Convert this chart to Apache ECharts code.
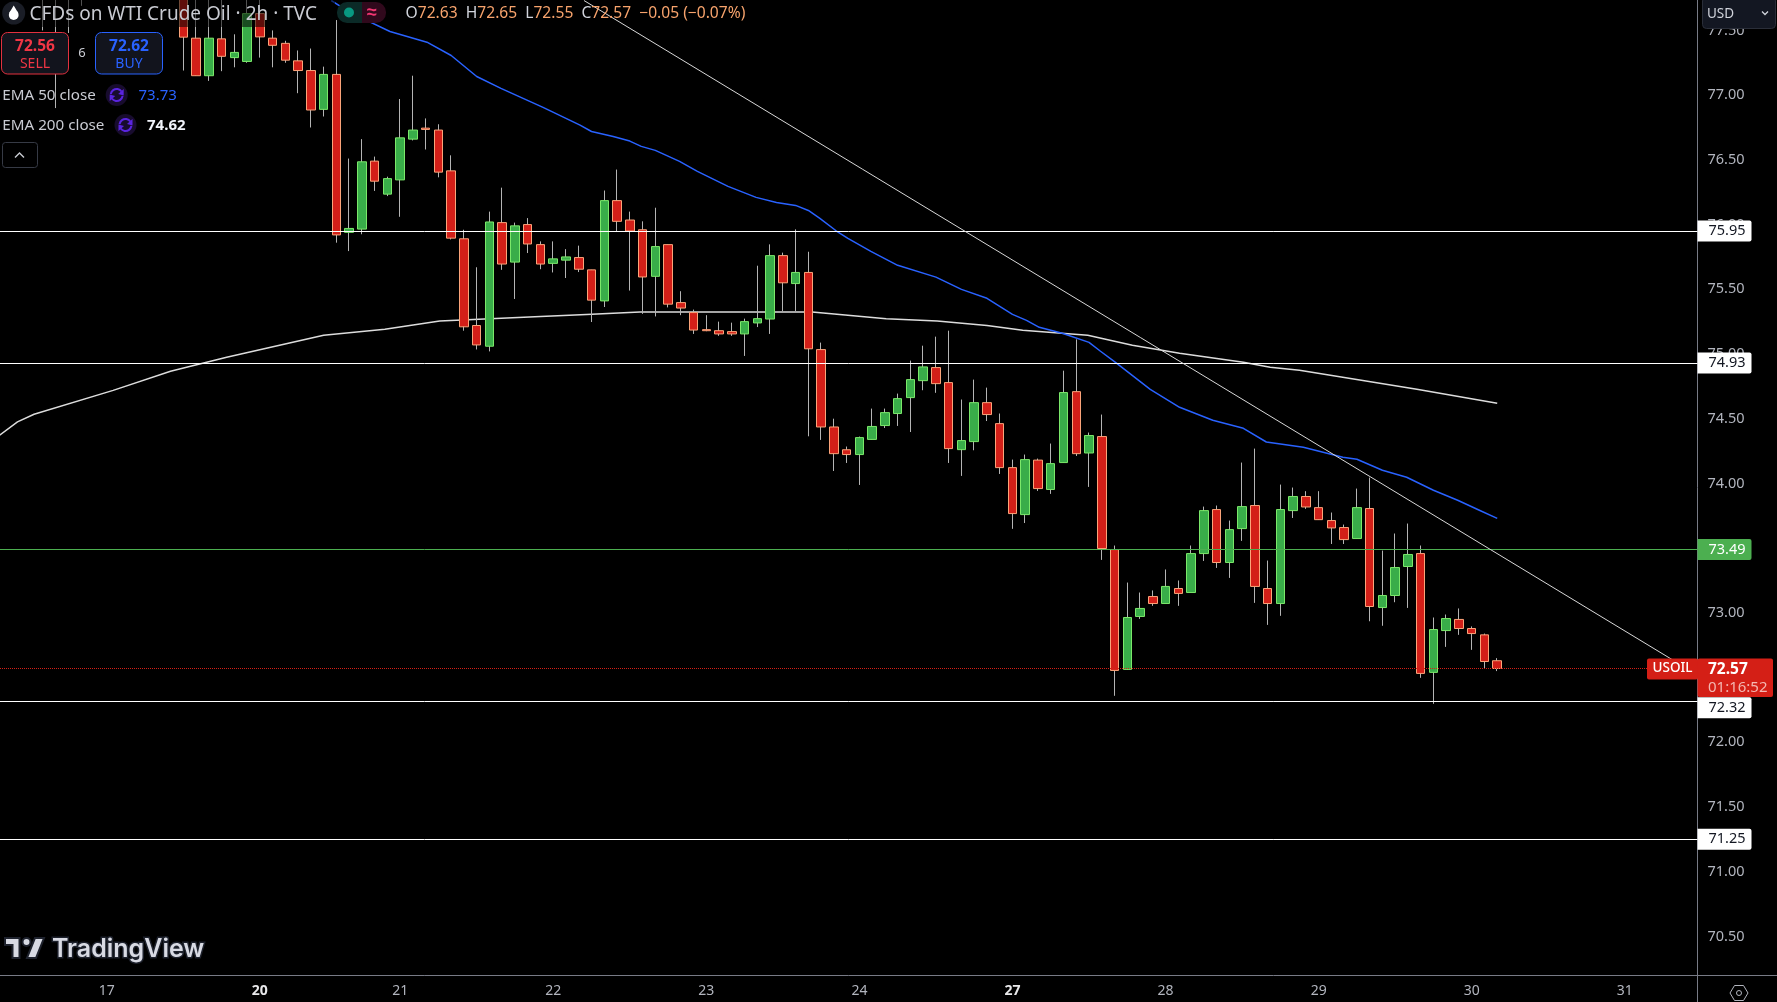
<!DOCTYPE html>
<html><head><meta charset="utf-8">
<style>html,body{margin:0;padding:0;background:#000;overflow:hidden}#c{width:1777px;height:1002px}</style>
<script src="https://cdn.jsdelivr.net/npm/echarts@6/dist/echarts.min.js"></script>
</head><body><div id="c"></div>
<script>
// ---- DATA ----
const firstBar = -11;
const opens = [78,78,78,78,null,null,null,null,null,null,null,
77.8,77.44,77.15,77.435,77.29,77.26,77.63,77.44,77.40,77.265,77.19,76.89,77.16,75.94,75.965,76.49,76.235,76.345,76.66,76.745,76.73,76.415,75.89,75.22,75.06,76.015,75.71,76.0,75.845,75.70,75.725,75.745,75.65,75.41,76.185,76.035,75.96,75.60,75.845,75.397,75.32,75.188,75.18,75.173,75.155,75.24,75.27,75.76,75.544,75.63,75.034,74.436,74.26,74.223,74.34,74.447,74.54,74.663,74.794,74.895,74.779,74.261,74.323,74.624,74.462,74.122,73.759,74.18,73.953,74.161,74.709,74.235,74.362,73.489,72.563,72.972,73.126,73.072,73.188,73.157,73.458,73.798,73.389,73.651,73.829,73.188,73.072,73.79,73.899,73.813,73.713,73.659,73.574,73.806,73.041,73.134,73.358,73.458,72.54,72.863,72.949,72.879,72.83,72.63];
const closes = [77.9,77.9,77.9,77.9,null,null,null,null,null,null,null,
77.448,77.15,77.44,77.30,77.33,77.63,77.45,77.385,77.27,77.19,76.885,77.16,75.92,75.97,76.485,76.335,76.355,76.67,76.73,76.735,76.405,75.895,75.21,75.07,76.02,75.695,75.99,75.85,75.695,75.735,75.75,75.655,75.416,76.185,76.025,75.95,75.595,75.83,75.385,75.355,75.185,75.18,75.155,75.155,75.25,75.273,75.76,75.55,75.63,75.04,74.436,74.23,74.223,74.354,74.44,74.547,74.655,74.802,74.90,74.771,74.269,74.331,74.624,74.532,74.122,73.767,74.184,73.96,74.153,74.702,74.23,74.37,73.497,72.555,72.964,73.034,73.072,73.204,73.15,73.458,73.79,73.389,73.643,73.821,73.204,73.072,73.798,73.899,73.818,73.72,73.656,73.566,73.813,73.049,73.134,73.35,73.451,72.532,72.871,72.956,72.879,72.84,72.624,72.57];
const lows = [77.50,76.90,77.48,77.69,null,null,null,null,null,null,null,
77.19,77.15,77.11,77.185,77.215,77.25,77.29,77.215,77.25,77.015,76.75,76.835,75.86,75.795,75.925,76.26,76.22,76.06,76.65,76.58,76.365,75.885,75.18,75.035,75.02,75.65,75.425,75.78,75.655,75.63,75.587,75.633,75.247,75.363,75.95,75.49,75.31,75.29,75.36,75.30,75.155,75.176,75.14,75.14,74.985,75.208,75.155,75.33,75.33,74.364,74.336,74.096,74.158,73.988,74.34,74.428,74.444,74.397,74.72,74.70,74.158,74.058,74.256,74.482,74.073,73.649,73.694,73.942,73.919,74.161,74.212,73.973,73.409,72.359,72.563,72.953,73.054,73.072,73.054,73.157,73.401,73.347,73.27,73.556,73.077,72.907,72.977,73.733,73.803,73.72,73.532,73.532,73.574,72.935,72.90,73.082,73.038,72.498,72.297,72.737,72.83,72.714,72.567,72.55];
const highs = [78.1,78.1,78.1,78.1,null,null,null,null,null,null,null,
77.95,77.8,77.75,77.75,77.47,77.75,77.75,77.50,77.42,77.345,77.36,77.22,77.58,76.51,76.66,76.525,76.37,76.97,77.15,76.82,76.775,76.535,75.96,75.67,76.10,76.285,76.015,76.05,75.87,75.87,75.81,75.837,75.65,76.263,76.425,76.10,76.025,76.13,75.845,75.485,75.343,75.30,75.25,75.242,75.273,75.682,75.847,75.783,75.963,75.79,75.088,74.50,74.285,74.362,74.578,74.578,74.694,74.949,75.064,75.134,75.18,74.648,74.802,74.74,74.54,74.184,74.223,74.192,74.308,74.871,75.113,74.393,74.532,73.52,73.234,73.157,73.173,73.335,73.25,73.52,73.821,73.829,73.713,74.161,74.269,73.404,73.991,73.968,73.94,73.94,73.775,73.682,73.96,74.045,73.481,73.613,73.69,73.52,72.964,72.987,73.034,72.895,72.84,72.65];

const ema50Bars = [11.6,13.1,16.2,19.1,21,23,24.9,28.2,31.1,32,33.7,35,35.9,37,38.9,40.3,42.7,44.9,46.5,48,49,49.9,51.2,52.1,53.9,56,59,61,63,65,66.1,67.1,68.9,71,71.9,73.1,75.8,78.1,80.7,83.1,84.9,87.8,90.9,92,94,95.9,98,99.9,101.6,103];
const ema50Values = [77.731,77.638,77.492,77.409,77.306,77.144,77.052,76.905,76.768,76.719,76.681,76.645,76.604,76.573,76.488,76.411,76.295,76.21,76.171,76.148,76.109,76.048,75.95,75.893,75.793,75.685,75.594,75.499,75.43,75.306,75.26,75.206,75.16,75.09,75.021,74.933,74.727,74.588,74.488,74.426,74.32,74.279,74.202,74.187,74.102,74.048,73.947,73.87,73.793,73.73];
const ema200Bars = [-14.4,-13,-11.7,-5.5,-1,3.4,11,15.8,20.1,28,31.6,35.8,43.6,49.3,55.1,59.1,63,65.8,70.9,74.4,78.1,83.1,85.2,87.5,96.7,103];
const ema200Values = [74.372,74.475,74.534,74.719,74.866,74.974,75.144,75.191,75.255,75.29,75.306,75.324,75.324,75.324,75.273,75.255,75.221,75.183,75.144,75.067,75.005,74.936,74.897,74.874,74.727,74.62];
const trendBars = [31.41,118.7];
const trendValues = [77.731,72.52];

const levelsWhite = [75.95,74.93,72.32,71.25];
const levelGreen = 73.49;
const lastPrice = 72.57;
const priceTicks = [70.5,71,71.5,72,72.5,73,73.5,74,74.5,75,75.5,76,76.5,77,77.5];
const dayBars = [-6,6,17,29,41,53,65,77,89,101,113];
const dayLabels = ['17','20','21','22','23','24','27','28','29','30','31'];
const boldDays = ['20','27'];
const title = 'CFDs on WTI Crude Oil · 2h · TVC';
const ohlc = {O:'72.63',H:'72.65',L:'72.55',C:'72.57',chg:'−0.05 (−0.07%)'};
const sell = '72.56', buy = '72.62', spread = '6';
const ema50Last = '73.73', ema200Last = '74.62';
const countdown = '01:16:52';

// ---- CHART ----
const FONT = '"Noto Sans", sans-serif';
const chart = echarts.init(document.getElementById('c'), null, {renderer:'canvas'});
const rows = [];
opens.forEach((o,i)=>{ if(o!==null) rows.push({k:firstBar+i,o,c:closes[i],l:lows[i],h:highs[i]}); });

const levelLabel = (bg,fg,off)=>({show:true,position:'end',distance:0,formatter:p=>p.value.toFixed(2),
  backgroundColor:bg,color:fg,fontFamily:FONT,fontSize:14.5,width:43,height:21,lineHeight:21,padding:[0,0,0,11],
  borderRadius:[0,2,2,0],align:'left',offset:[0,off]});

const baseOption = {
  backgroundColor:'#000',animation:false,
  grid:{left:0,right:79.5,top:0,bottom:26.5,containLabel:false},
  xAxis:{type:'value',min:-14.37,max:118.7,splitLine:{show:false},axisTick:{show:false},
    axisLine:{show:true,onZero:false,lineStyle:{color:'#787b86',width:1}},
    axisLabel:{customValues:dayBars,margin:9,color:'#b2b5be',fontFamily:FONT,fontSize:14,showMinLabel:true,showMaxLabel:true,
      formatter:v=>{const s=dayLabels[dayBars.indexOf(v)];return boldDays.includes(s)?'{b|'+s+'}':s;},
      rich:{b:{color:'#e8e8ea',fontWeight:'bold',fontFamily:FONT,fontSize:14}}}},
  yAxis:{type:'value',position:'right',min:70.198,max:77.735,splitLine:{show:false},axisTick:{show:false},
    axisLine:{show:true,onZero:false,lineStyle:{color:'#787b86',width:1}},
    axisLabel:{customValues:priceTicks,margin:10,color:'#b2b5be',fontFamily:FONT,fontSize:14.5,formatter:v=>v.toFixed(2)}},
  series:[
    {type:'line',name:'levels',data:[],z:1,silent:true,
     markLine:{silent:true,symbol:'none',animation:false,
       data:[
         ...levelsWhite.map(v=>({yAxis:v,lineStyle:{color:'#ffffff',width:1,type:'solid'},label:levelLabel('#ffffff','#131722',v===72.32?7:0)})),
         {yAxis:levelGreen,lineStyle:{color:'#4caf50',width:1,type:'solid'},label:levelLabel('#4caf50','#ffffff',0)},
         {yAxis:lastPrice,lineStyle:{color:'#d41f16',width:1,type:'dotted'},label:{show:false}}
       ]}},
    {type:'line',name:'EMA 200',z:2,silent:true,showSymbol:false,symbol:'none',data:ema200Bars.map((k,i)=>[k,ema200Values[i]]),
      lineStyle:{color:'#dcdcdc',width:1.5}},
    {type:'line',name:'EMA 50',z:2,silent:true,showSymbol:false,symbol:'none',data:ema50Bars.map((k,i)=>[k,ema50Values[i]]),
      lineStyle:{color:'#2962ff',width:1.5}},
    {type:'candlestick',name:'wick',z:3,silent:true,barWidth:1,encode:{x:0,y:[1,2,3,4]},
      data:rows.map(r=>[r.k,r.l,r.l,r.l,r.h]),
      itemStyle:{color:'#b4b4b4',color0:'#b4b4b4',borderColor:'#b4b4b4',borderColor0:'#b4b4b4',borderWidth:1}},
    {type:'candlestick',name:'USOIL',z:4,silent:true,barWidth:9,encode:{x:0,y:[1,2,3,4]},
      data:rows.map(r=>[r.k,r.o,r.c,Math.min(r.o,r.c),Math.max(r.o,r.c)]),
      itemStyle:{color:'#39ad49',color0:'#d31f18',borderColor:'#7be86a',borderColor0:'#fba47a',borderWidth:1}},
    {type:'line',name:'trend',z:5,silent:true,showSymbol:false,symbol:'none',data:trendBars.map((k,i)=>[k,trendValues[i]]),
      lineStyle:{color:'#d8d8d8',width:1}}
  ]
};
chart.setOption(baseOption);

// ---- OVERLAYS (header, legend, tags) ----
const Z = 100;
const txt = (x,y,text,fill,size,opts={})=>({type:'text',z:Z+2,x,y,silent:true,style:Object.assign({text,fill,font:(opts.weight||'normal')+' '+size+'px '+FONT,textVerticalAlign:'middle',textAlign:opts.align||'left'},opts.style||{})});
const box = (x,y,w,h,fill,stroke,r,z)=>({type:'rect',z:z||Z,silent:true,shape:{x,y,width:w,height:h,r:r||0},style:{fill,stroke:stroke||null,lineWidth:stroke?1:0}});
const syncIcon = (cx,cy,rBg)=>[
  {type:'circle',z:Z,silent:true,shape:{cx,cy,r:rBg},style:{fill:'#180c2e'}},
  {type:'arc',z:Z+1,silent:true,shape:{cx,cy,r:6,startAngle:Math.PI*1.05,endAngle:Math.PI*1.8},style:{stroke:'#5a24e0',lineWidth:2,fill:null}},
  {type:'arc',z:Z+1,silent:true,shape:{cx,cy,r:6,startAngle:Math.PI*0.05,endAngle:Math.PI*0.8},style:{stroke:'#5a24e0',lineWidth:2,fill:null}},
  {type:'polygon',z:Z+1,silent:true,shape:{points:[[cx+7,cy-6],[cx+7,cy+0.5],[cx+1.5,cy-1]]},style:{fill:'#5a24e0'}},
  {type:'polygon',z:Z+1,silent:true,shape:{points:[[cx-7,cy+6],[cx-7,cy-0.5],[cx-1.5,cy+1]]},style:{fill:'#5a24e0'}}
];
const yLast = chart.convertToPixel({yAxisIndex:0},lastPrice);
const xAxisRight = 1697.5, xAxisBottom = 975.5;
const elements = [
  box(0,0,335,27,'rgba(0,0,0,0.55)',null,0,Z-1),
  {type:'circle',z:Z,silent:true,shape:{cx:13.7,cy:13,r:11.5},style:{fill:'#1a1d26'}},
  {type:'circle',z:Z+1,silent:true,shape:{cx:13.7,cy:15,r:4.9},style:{fill:'#ffffff'}},
  {type:'polygon',z:Z+1,silent:true,shape:{points:[[13.7,5.5],[9.2,13],[18.2,13]]},style:{fill:'#ffffff'}},
  txt(29.5,15,title,'#c9cbd2',19),
  {type:'rect',z:Z,silent:true,shape:{x:337,y:2,width:25,height:21,r:[10,0,0,10]},style:{fill:'#0b2a27'}},
  {type:'rect',z:Z,silent:true,shape:{x:362,y:2,width:24,height:21,r:[0,10,10,0]},style:{fill:'#30091c'}},
  {type:'circle',z:Z+1,silent:true,shape:{cx:349,cy:12.5,r:5},style:{fill:'#089981'}},
  txt(372,13,'≈','#f23672',18,{align:'center',weight:'bold'}),
  {type:'text',z:Z+2,silent:true,x:405.6,y:14,style:{
    text:`{l|O}{v|${ohlc.O}}  {l|H}{v|${ohlc.H}}  {l|L}{v|${ohlc.L}}  {l|C}{v|${ohlc.C}}  {v|${ohlc.chg}}`,
    textVerticalAlign:'middle',font:'15.6px '+FONT,
    rich:{l:{fill:'#d1d4dc',fontSize:15.6,fontFamily:FONT},v:{fill:'#f7a36c',fontSize:15.6,fontFamily:FONT}}}},
  box(1.5,32.5,67,41.5,'#12141d','#e3313f',6),
  txt(35,47,sell,'#f23645',15.5,{align:'center',weight:'bold'}),
  txt(35,64,'SELL','#f23645',14,{align:'center'}),
  txt(82,53,spread,'#c9cbd2',13,{align:'center'}),
  box(95.5,32.5,67,41.5,'#12141d','#2962ff',6),
  txt(129,47,buy,'#2962ff',15.5,{align:'center',weight:'bold'}),
  txt(129,64,'BUY','#2962ff',14,{align:'center'}),
  txt(2.3,96,'EMA 50 close','#c9cbd2',15.2),
  ...syncIcon(116.7,95,11),
  txt(138.5,96,ema50Last,'#2962ff',15),
  txt(2.3,126,'EMA 200 close','#c9cbd2',15.2),
  ...syncIcon(125.5,125,11),
  txt(147,126,ema200Last,'#f0f3fa',15,{weight:'bold'}),
  box(2.5,142.5,35,25,'#000','#363a45',3),
  {type:'polyline',z:Z+1,silent:true,shape:{points:[[15,157.5],[19.5,153],[24,157.5]]},style:{stroke:'#c9cbd2',lineWidth:1.4,fill:null}},
  // USD button
  {type:'rect',z:Z,silent:true,shape:{x:1702.5,y:-3,width:73,height:31.5,r:4},style:{fill:'#131722',stroke:'#2a2e39',lineWidth:1}},
  txt(1707,14,'USD','#d1d4dc',13.5),
  {type:'polyline',z:Z+1,silent:true,shape:{points:[[1762,11.5],[1765,14.5],[1768,11.5]]},style:{stroke:'#d1d4dc',lineWidth:1.3,fill:null}},
  // last price tags
  box(1647,yLast-10,51,21,'#d41f16',null,2,Z),
  txt(1672.5,yLast,'USOIL','#ffffff',13.5,{align:'center',weight:'500'}),
  box(1697.5,yLast-10,75.5,38.5,'#d41f16',null,2,Z),
  txt(1708,yLast+1,lastPrice.toFixed(2),'#ffffff',15.5,{weight:'bold'}),
  txt(1708,yLast+19,countdown,'#f3b7b1',15),
  // axis extensions, gear
  {type:'line',z:Z,silent:true,shape:{x1:xAxisRight,y1:xAxisBottom,x2:xAxisRight,y2:1002},style:{stroke:'#787b86',lineWidth:1}},
  {type:'line',z:Z,silent:true,shape:{x1:xAxisRight,y1:xAxisBottom,x2:1777,y2:xAxisBottom},style:{stroke:'#787b86',lineWidth:1}},
  {type:'polygon',z:Z,silent:true,shape:{points:[[1730,993],[1734.5,985.5],[1743.5,985.5],[1748,993],[1743.5,1000.5],[1734.5,1000.5]]},style:{stroke:'#b2b5be',lineWidth:1,fill:null}},
  {type:'circle',z:Z,silent:true,shape:{cx:1739,cy:993,r:2.5},style:{stroke:'#b2b5be',lineWidth:1,fill:null}},
  // TradingView logo
  {type:'polygon',z:Z+1,silent:true,shape:{points:[[5,938],[19.5,938],[19.5,958],[12.5,958],[12.5,945],[5,945]]},style:{fill:'#d8dae3',stroke:'#1e222d',lineWidth:2}},
  {type:'polygon',z:Z+1,silent:true,shape:{points:[[35,938],[44,938],[36,958],[27,958]]},style:{fill:'#d8dae3',stroke:'#1e222d',lineWidth:2}},
  {type:'circle',z:Z+1,silent:true,shape:{cx:26.5,cy:942,r:4},style:{fill:'#d8dae3',stroke:'#1e222d',lineWidth:2}},
  {type:'text',z:Z+2,silent:true,x:52,y:949,style:{text:'TradingView',font:'600 25px Inter, sans-serif',fill:'#d8dae3',stroke:'#1e222d',lineWidth:3,textVerticalAlign:'middle'}}
];
chart.setOption({graphic:{elements}});
</script></body></html>
